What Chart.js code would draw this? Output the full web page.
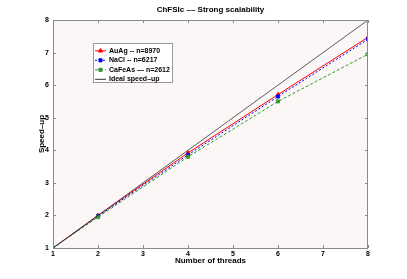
<!DOCTYPE html>
<html><head><meta charset="utf-8">
<script src="https://cdn.jsdelivr.net/npm/chart.js@4/dist/chart.umd.min.js"></script>
<style>html,body{margin:0;padding:0;background:#fff}#wrap{width:407px;height:279px}</style>
</head><body><div id="wrap"><canvas id="c" width="407" height="279"></canvas></div>
<script>
const threads = [1, 2, 4, 6, 8];
const auag = [1, 2.0, 3.92, 5.71, 7.47];
const nacl = [1, 1.98, 3.86, 5.65, 7.41];
const cafeas = [1, 1.95, 3.80, 5.50, 6.95];
const ideal = [1, 2, 4, 6, 8];
const xTicks = [1, 2, 3, 4, 5, 6, 7, 8];
const yTicks = [1, 2, 3, 4, 5, 6, 7, 8];
const seriesLabels = ['AuAg -- n=8970', 'NaCl -- n=6217', 'CaFeAs — n=2612', 'Ideal speed–up'];
const titleText = 'ChFSIc –– Strong scalability';
const xTitle = 'Number of threads';
const yTitle = 'Speed–up';

const FONT = '"Liberation Sans", Arial, Helvetica, sans-serif';
const pts = arr => threads.map((t, i) => ({x: t, y: arr[i]}));

const styles = [
  {color: '#ff0000', dash: [], marker: 'triangle', r: 2.4},
  {color: '#0000ff', dash: [2, 2], marker: 'rect', r: 2.2},
  {color: '#2f9a2f', dash: [3, 2], marker: 'rect', r: 2.2},
  {color: '#333333', dash: [], marker: false, r: 0}
];
const seriesData = [auag, nacl, cafeas, ideal];

const datasets = seriesData.map((d, i) => ({
  label: seriesLabels[i],
  data: pts(d),
  borderColor: styles[i].color,
  backgroundColor: styles[i].color,
  borderWidth: i === 3 ? 0.8 : 1,
  borderDash: styles[i].dash,
  pointStyle: styles[i].marker || 'circle',
  pointRadius: styles[i].r,
  pointBorderWidth: 0.8,
  tension: 0,
  order: 3 - i
}));

const framePlugin = {
  id: 'frame',
  beforeDraw(chart) {
    const {ctx, chartArea: a} = chart;
    ctx.save();
    ctx.fillStyle = '#fbf7f6';
    ctx.fillRect(a.left, a.top, a.right - a.left, a.bottom - a.top);
    ctx.restore();
  },
  afterDraw(chart) {
    const {ctx, chartArea: a, scales} = chart;
    ctx.save();
    ctx.strokeStyle = '#8a8a8a';
    ctx.lineWidth = 1;
    ctx.strokeRect(a.left + 0.5, a.top + 0.5, a.right - a.left - 1, a.bottom - a.top);
    const tl = 3;
    ctx.beginPath();
    xTicks.forEach(v => {
      const x = Math.round(scales.x.getPixelForValue(v)) + 0.5;
      ctx.moveTo(x, a.bottom); ctx.lineTo(x, a.bottom - tl);
      ctx.moveTo(x, a.top); ctx.lineTo(x, a.top + tl);
    });
    yTicks.forEach(v => {
      const y = Math.round(scales.y.getPixelForValue(v)) + 0.5;
      ctx.moveTo(a.left, y); ctx.lineTo(a.left + tl, y);
      ctx.moveTo(a.right, y); ctx.lineTo(a.right - tl, y);
    });
    ctx.stroke();

    // legend
    const lx = 93, ly = 43, lw = 79, lh = 39;
    ctx.fillStyle = '#ffffff';
    ctx.fillRect(lx, ly, lw, lh);
    ctx.strokeStyle = '#999999';
    ctx.strokeRect(lx + 0.5, ly + 0.5, lw, lh);
    ctx.font = 'bold 7px ' + FONT;
    ctx.textBaseline = 'middle';
    seriesLabels.forEach((lab, i) => {
      const y = ly + 3 + 4.8 + i * 9.5;
      const st = styles[i];
      ctx.strokeStyle = st.color;
      ctx.lineWidth = 1;
      ctx.setLineDash(st.dash);
      ctx.beginPath();
      ctx.moveTo(lx + 2, y); ctx.lineTo(lx + 13, y);
      ctx.stroke();
      ctx.setLineDash([]);
      if (st.marker) {
        ctx.fillStyle = st.color;
        Chart.helpers.drawPoint(ctx, {pointStyle: st.marker, radius: st.r, borderWidth: 0.8}, lx + 7.5, y);
      }
      ctx.fillStyle = '#000';
      ctx.fillText(lab, lx + 16, y);
    });
    ctx.restore();
  }
};

new Chart(document.getElementById('c'), {
  type: 'line',
  data: {datasets},
  options: {
    responsive: false,
    animation: false,
    devicePixelRatio: 1,
    layout: {padding: {left: 0, right: 39, top: 0, bottom: 0}},
    plugins: {
      legend: {display: false},
      tooltip: {enabled: false},
      title: {
        display: true, text: titleText, color: '#000', fullSize: false,
        font: {family: FONT, size: 8, weight: 'bold', lineHeight: 1},
        padding: {top: 6, bottom: 6}
      }
    },
    scales: {
      x: {
        type: 'linear', min: 1, max: 8,
        afterBuildTicks: s => { s.ticks = xTicks.map(v => ({value: v})); },
        afterFit: s => { s.height = 31; },
        grid: {display: false, drawTicks: false},
        border: {display: false},
        ticks: {padding: 2, color: '#000', font: {family: FONT, size: 7, weight: 'bold'}, maxRotation: 0},
        title: {display: true, text: xTitle, color: '#000', padding: {top: 0, bottom: 13},
          font: {family: FONT, size: 8, weight: 'bold', lineHeight: 1.2}}
      },
      y: {
        type: 'linear', min: 1, max: 8,
        afterBuildTicks: s => { s.ticks = yTicks.map(v => ({value: v})); },
        afterFit: s => { s.width = 53; },
        grid: {display: false, drawTicks: false},
        border: {display: false},
        ticks: {padding: 4, color: '#000', font: {family: FONT, size: 7, weight: 'bold'}},
        title: {display: true, text: yTitle, color: '#000', padding: {top: 37, bottom: 0},
          font: {family: FONT, size: 8, weight: 'bold', lineHeight: 1.2}}
      }
    }
  },
  plugins: [framePlugin]
});
</script>
</body></html>
